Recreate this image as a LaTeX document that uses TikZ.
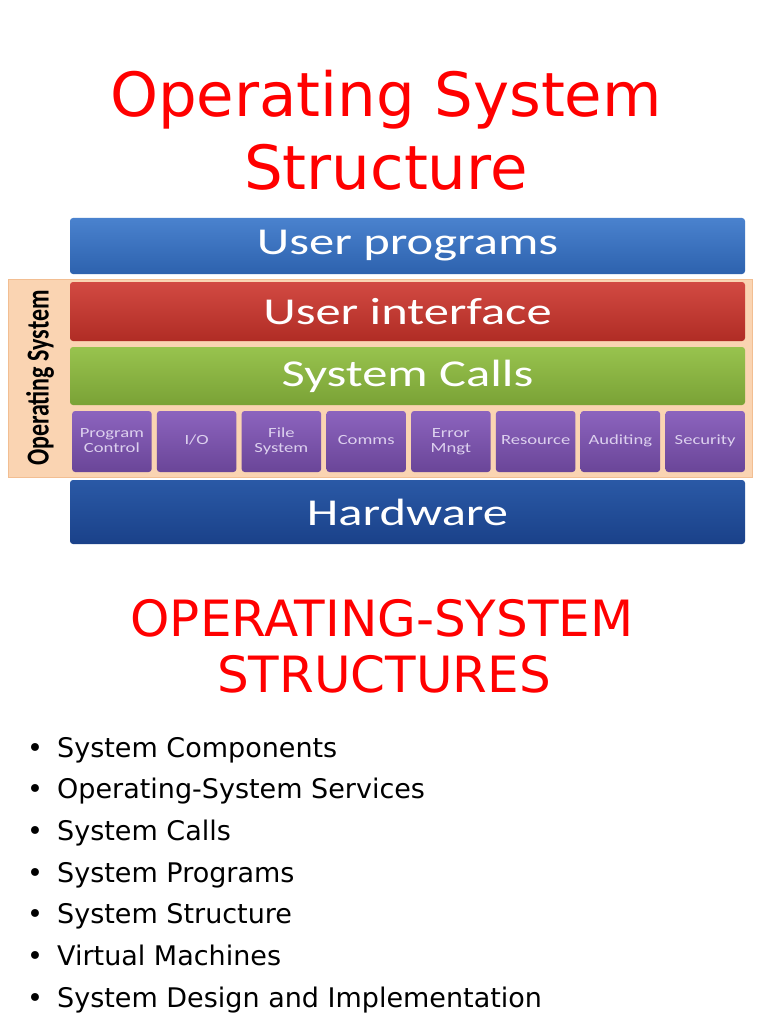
\documentclass[tikz,border=0pt]{standalone}
\usepackage{fontspec}
\usepackage{graphicx}
\setmainfont{DejaVu Sans}
\newfontfamily\boxfont{Carlito}
\usetikzlibrary{positioning}
\definecolor{titlered}{HTML}{FF0000}
\definecolor{panelorange}{HTML}{FAD4B2}
\definecolor{paneledge}{HTML}{F2BE92}
\definecolor{lavender}{HTML}{DCD0EE}
\definecolor{progtop}{HTML}{4A82CE}
\definecolor{progbot}{HTML}{2D62AE}
\definecolor{uitop}{HTML}{D24A42}
\definecolor{uibot}{HTML}{B02C25}
\definecolor{calltop}{HTML}{98C34E}
\definecolor{callbot}{HTML}{7AA236}
\definecolor{svctop}{HTML}{8C64BE}
\definecolor{svcbot}{HTML}{6A4598}
\definecolor{hwtop}{HTML}{2A59A6}
\definecolor{hwbot}{HTML}{1A4189}
\newcommand{\wide}[1]{\scalebox{1.33}[1]{#1}}
\tikzset{
  layer/.style = {rounded corners = 3, inner sep = 0, minimum width = 675,
    text = white, font = \boxfont\fontsize{38}{38}\selectfont},
  svcbox/.style = {rounded corners = 3, inner sep = 0, minimum width = 79.5,
    minimum height = 61, top color = svctop, bottom color = svcbot,
    text = lavender, font = \boxfont\fontsize{14}{15}\selectfont},
  heading/.style = {text = titlered, anchor = base},
  listtext/.style = {anchor = base west, inner sep = 0, font = \fontsize{27}{30}\selectfont}
}
\begin{document}
\begin{tikzpicture}[x=1pt, y=1pt]
    \useasboundingbox[fill=white] (0,0) rectangle (768,-1024);
    \node [heading, font=\fontsize{61}{72}\selectfont] (title) at (386,-117) {Operating System};
    \node [heading, font=\fontsize{61}{72}\selectfont] (title2) at (386,-190) {Structure};
    \node [fill=panelorange, draw=paneledge, minimum width=744, minimum height=198, inner sep=0] (ospanel) at (380,-378) {};
    \node [layer, minimum height=56, top color=progtop, bottom color=progbot] (userprog) at (407.5,-246) {\wide{User programs}};
    \node [layer, minimum height=59, top color=uitop, bottom color=uibot] (userif) at (407.5,-311.5) {\wide{User interface}};
    \node [layer, minimum height=58, top color=calltop, bottom color=callbot] (syscalls) at (407.5,-376) {\wide{System Calls}};
    \foreach [count=\i] \lbl in {{Program\\Control}, I/O, {File\\System}, Comms, {Error\\Mngt}, Resource, Auditing, Security}{
      \node [svcbox] (svc\i) at ({111.9+(\i-1)*84.75},-441.5) {\wide{\begin{tabular}{@{}c@{}}\lbl\end{tabular}}};
    }
    \node [layer, minimum height=64, top color=hwtop, bottom color=hwbot] (hw) at (407.5,-512) {\wide{Hardware}};
    \node [font=\boxfont\bfseries\fontsize{24}{24}\selectfont] (oslabel) at (40,-378) {\wide{\rotatebox{90}{Operating System}}};
    \node [heading, font=\fontsize{50}{60}\selectfont] (subtitle) at (382,-636) {OPERATING-SYSTEM};
    \node [heading, font=\fontsize{50}{60}\selectfont] (subtitle2) at (384,-692) {STRUCTURES};
    \foreach [count=\i] \txt in {System Components, Operating-System Services, System Calls, System Programs, System Structure, Virtual Machines, System Design and Implementation}{
      \node [listtext, anchor=base] (dot\i) at (35,{-757-(\i-1)*41.7}) {\textbullet};
      \node [listtext] (entry\i) at (57,{-757-(\i-1)*41.7}) {\txt};
    }
  \end{tikzpicture}
\end{document}
